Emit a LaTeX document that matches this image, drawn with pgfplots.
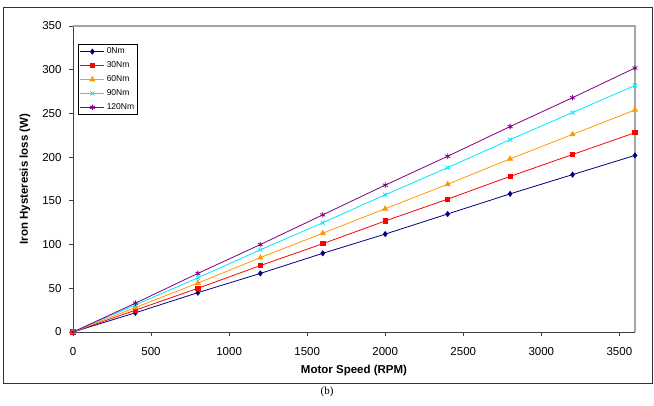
\documentclass[border=0pt]{standalone}
\usepackage{pgfplots}
\pgfplotsset{compat=1.18}
\usepackage{fontspec}
\setmainfont{Liberation Sans}
\newfontfamily\serifcap{Liberation Serif}
\definecolor{cnavy}{RGB}{0,0,128}
\definecolor{cred}{RGB}{255,0,0}
\definecolor{corange}{RGB}{255,153,0}
\definecolor{ccyan}{RGB}{0,230,255}
\definecolor{cpurple}{RGB}{128,0,128}
\begin{document}
\begin{tikzpicture}[x=1pt,y=1pt]
\path[use as bounding box] (0,0) rectangle (654,405);
\draw[line width=1pt, black!80] (3,22) rectangle (652,397);
\node[font=\serifcap\fontsize{11}{12}\selectfont] at (327,13) {(b)};
\begin{axis}[
  at={(73pt,73pt)}, anchor=south west,
  scale only axis, width=562pt, height=306pt,
  xmin=0, xmax=3600, ymin=0, ymax=350,
  xtick={0,500,...,3500}, ytick={0,50,...,350},
  axis lines*=left,
  axis line style={-, black!75, line width=0.9pt},
  tick style={black!75, line width=0.8pt},
  tick align=outside, major tick length=4pt,
  /pgf/number format/assume math mode=true,
  /pgf/number format/1000 sep={},
  ticklabel style={font=\fontsize{11.5}{13}\selectfont},
  xticklabel style={yshift=-8pt},
  yticklabel style={xshift=-4pt},
  xlabel={\textbf{Motor Speed (RPM)}},
  ylabel={\textbf{Iron Hysteresis loss (W)}},
  label style={font=\fontsize{11.5}{13}\selectfont},
  xlabel style={at={(axis description cs:0.5,-0.1275)}, anchor=center},
  ylabel style={at={(axis description cs:-0.0854,0.5)}, anchor=center},
  clip=false,
  legend style={at={(rel axis cs:0.009,0.941)}, anchor=north west,
    font=\fontsize{8.5}{10}\selectfont, draw=black, line width=0.8pt,
    inner sep=1.5pt, row sep=2.5pt},
  legend cell align=left,
  legend image code/.code={\draw[mark repeat=2,mark phase=2] plot coordinates {(0pt,0pt)(12pt,0pt)(24pt,0pt)};},
  every axis plot/.append style={line width=0.8pt},
]
\draw[gray!70, line width=1.2pt] (rel axis cs:0,1) -- (rel axis cs:1,1) -- (rel axis cs:1,0);
\addplot[cnavy, mark=diamond*, mark size=2.5pt, mark options={solid}] coordinates {
(0,0)(400,22)(800,45)(1200,67)(1600,90)(2000,112)(2400,135)(2800,158)(3200,180)(3600,202)};
\addlegendentry{0Nm}
\addplot[cred, mark=square*, mark size=2.2pt] coordinates {
(0,0)(400,25)(800,50)(1200,76)(1600,101)(2000,127)(2400,152)(2800,178)(3200,203)(3600,228)};
\addlegendentry{30Nm}
\addplot[corange, mark=triangle*, mark size=2.8pt] coordinates {
(0,0)(400,28)(800,56)(1200,85)(1600,113)(2000,141)(2400,169)(2800,198)(3200,226)(3600,254)};
\addlegendentry{60Nm}
\addplot[ccyan, mark=x, mark size=2.8pt] coordinates {
(0,0)(400,31)(800,62)(1200,94)(1600,125)(2000,157)(2400,188)(2800,220)(3200,251)(3600,282)};
\addlegendentry{90Nm}
\addplot[cpurple, mark=asterisk, mark size=2.8pt] coordinates {
(0,0)(400,33)(800,67)(1200,100)(1600,134)(2000,168)(2400,201)(2800,235)(3200,268)(3600,302)};
\addlegendentry{120Nm}
\end{axis}
\end{tikzpicture}
\end{document}
